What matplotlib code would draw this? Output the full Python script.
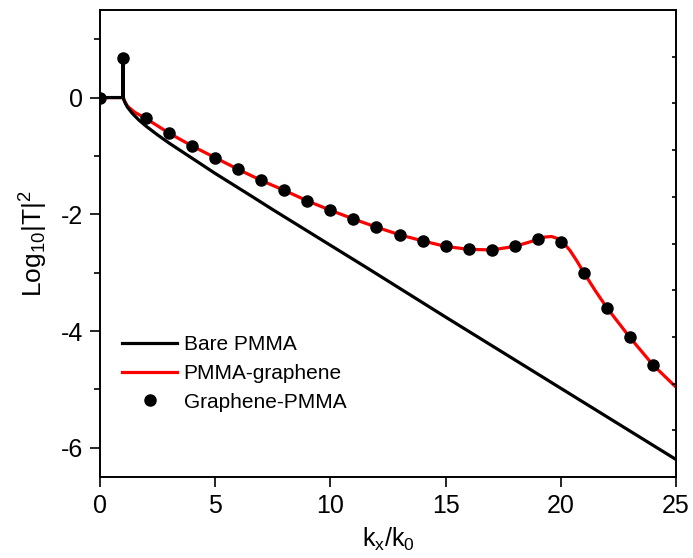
import matplotlib
matplotlib.use("Agg")
import matplotlib.pyplot as plt

plt.rcParams['font.family'] = ['Liberation Sans', 'DejaVu Sans']
plt.rcParams['mathtext.fontset'] = 'custom'
plt.rcParams['mathtext.rm'] = 'Liberation Sans'
plt.rcParams['mathtext.it'] = 'Liberation Sans'
plt.rcParams['axes.unicode_minus'] = False

# Bare PMMA (black line)
bare_x = [0, 0.5, 0.99, 1.0, 1.01, 1.05, 1.1, 1.2, 1.4, 1.7, 2, 2.5, 3, 4, 5, 6.5, 7.5, 10, 11.6, 15, 20, 25]
bare_y = [0, 0, 0, 0.62, 0.0, -0.05, -0.1, -0.17, -0.27, -0.39, -0.49, -0.64, -0.78, -1.04, -1.30, -1.67,
          -1.92, -2.53, -2.92, -3.76, -4.98, -6.2]

# PMMA-graphene (red line)
pg_x = [0, 0.5, 0.99, 1.0, 1.01, 1.05, 1.2, 1.5, 2, 3, 4, 5, 6, 7, 8, 9, 10, 11, 12, 13, 14, 15, 16, 17,
        18, 18.6, 19, 19.3, 19.6, 19.9, 20.1, 20.4, 20.7, 21, 21.5, 22, 23, 24, 25]
pg_y = [0, 0, 0, 0.68, 0.0, -0.05, -0.15, -0.25, -0.36, -0.61, -0.83, -1.03, -1.23, -1.42, -1.59, -1.77,
        -1.93, -2.08, -2.22, -2.35, -2.455, -2.55, -2.60, -2.61, -2.55, -2.48, -2.43, -2.39, -2.38, -2.42,
        -2.48, -2.62, -2.80, -3.0, -3.31, -3.6, -4.11, -4.58, -4.96]

# Graphene-PMMA (dots)
gp_x = list(range(25))
gp_y = [0.0, 0.68, -0.355, -0.61, -0.83, -1.03, -1.23, -1.42, -1.59, -1.77, -1.93, -2.08, -2.22,
        -2.35, -2.455, -2.55, -2.60, -2.61, -2.55, -2.43, -2.47, -3.0, -3.6, -4.11, -4.58]

fig = plt.figure(figsize=(6.93, 5.58), dpi=100)
ax = fig.add_axes([100/693, 81/558, 576/693, 467/558])

ax.plot(bare_x, bare_y, color='black', lw=2.3, label='Bare PMMA', zorder=3)
ax.plot(pg_x, pg_y, color='red', lw=2.3, label='PMMA-graphene', zorder=2)
ax.plot(gp_x, gp_y, 'o', color='black', ms=8, label='Graphene-PMMA', zorder=4)

ax.set_xlim(0, 25)
ax.set_ylim(-6.5, 1.5)
ax.set_xticks([0, 5, 10, 15, 20, 25])
ax.set_yticks([-6, -4, -2, 0])
ax.set_yticks([-5, -3, -1, 1], minor=True)
ax.tick_params(axis='both', labelsize=18, width=1.2, pad=5)
ax.tick_params(axis='x', direction='out', length=7, top=False)
ax.tick_params(axis='y', which='major', direction='out', length=7, right=False)
ax.tick_params(axis='y', which='minor', direction='out', length=4, width=1.2, right=False)
for s in ax.spines.values():
    s.set_linewidth(1.2)

ax.set_xlabel(r'k$_\mathregular{x}$/k$_\mathregular{0}$', fontsize=18, labelpad=6)
ax.set_ylabel(r'Log$_\mathregular{10}$|T|$^\mathregular{2}$', fontsize=19, labelpad=8)

# right axis: inward ticks, no labels
ax2 = ax.twinx()
ax2.set_ylim(0, 10)
ax2.set_yticks(range(11))
ax2.tick_params(axis='y', direction='in', length=3, width=1.2, labelright=False)
for s in ax2.spines.values():
    s.set_linewidth(1.2)

ax.legend(loc='lower left', bbox_to_anchor=(0.024, 0.122), borderaxespad=0, frameon=False,
          fontsize=15, handlelength=2.65, handletextpad=0.3, labelspacing=0.47, numpoints=1)

fig.savefig('out.png', dpi=100)
